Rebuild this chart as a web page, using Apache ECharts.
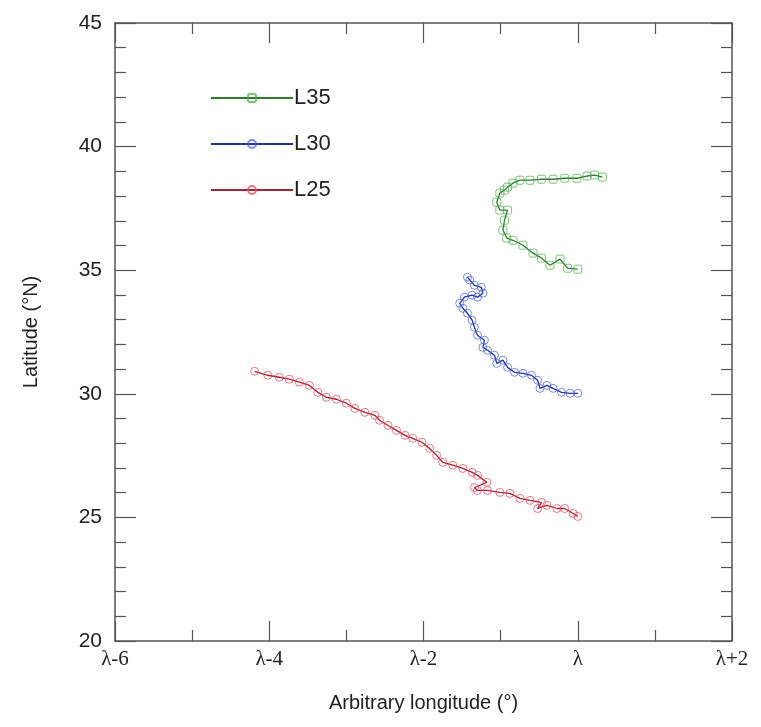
<!DOCTYPE html>
<html>
<head>
<meta charset="utf-8">
<script src="https://cdn.jsdelivr.net/npm/echarts@6/dist/echarts.min.js"></script>
<style>html,body{margin:0;padding:0;background:#fff}#c{width:761px;height:727px}</style>
</head>
<body>
<div id="c"></div>
<script>
// Tick values for the longitude axis (relative to λ)
const xTicks = [-6, -4, -2, 0, 2];
const xTickLabels = ['λ-6', 'λ-4', 'λ-2', 'λ', 'λ+2'];
const yTicks = [20, 25, 30, 35, 40, 45];

// L35 track: longitude offset, latitude
const l35Lon = [0, -0.13, -0.23, -0.36, -0.47, -0.58, -0.71, -0.84, -0.92, -0.97, -0.95, -0.91, -1.01, -1.05, -1.01, -0.95, -0.91, -0.84, -0.75, -0.62, -0.47, -0.32, -0.17, -0.01, 0.12, 0.22, 0.32];
const l35Lat = [35.04, 35.08, 35.45, 35.2, 35.49, 35.69, 36.01, 36.21, 36.3, 36.62, 37.02, 37.43, 37.43, 37.75, 38.12, 38.24, 38.36, 38.52, 38.64, 38.64, 38.68, 38.68, 38.72, 38.72, 38.81, 38.85, 38.77];

// L30 track
const l30Lon = [0, -0.10, -0.21, -0.32, -0.40, -0.49, -0.52, -0.60, -0.71, -0.82, -0.91, -0.97, -1.05, -1.08, -1.17, -1.23, -1.21, -1.30, -1.34, -1.37, -1.43, -1.49, -1.53, -1.47, -1.37, -1.30, -1.23, -1.25, -1.34, -1.40, -1.43];
const l30Lat = [30.02, 30.02, 30.06, 30.22, 30.34, 30.22, 30.55, 30.75, 30.83, 30.87, 31.07, 31.36, 31.23, 31.56, 31.76, 31.88, 32.17, 32.37, 32.69, 32.98, 33.26, 33.46, 33.66, 33.91, 33.99, 33.91, 34.07, 34.31, 34.39, 34.60, 34.72];

// L25 track
const l25Lon = [0, -0.06, -0.17, -0.27, -0.40, -0.52, -0.47, -0.62, -0.75, -0.88, -1.01, -1.17, -1.30, -1.34, -1.18, -1.30, -1.37, -1.49, -1.62, -1.75, -1.83, -1.92, -2.02, -2.14, -2.24, -2.35, -2.46, -2.57, -2.63, -2.76, -2.89, -3.00, -3.13, -3.26, -3.37, -3.48, -3.61, -3.74, -3.87, -4.02, -4.19];
const l25Lat = [25.04, 25.16, 25.36, 25.36, 25.49, 25.36, 25.61, 25.69, 25.77, 25.97, 26.01, 26.09, 26.09, 26.21, 26.42, 26.70, 26.82, 26.98, 27.11, 27.23, 27.51, 27.79, 28.04, 28.20, 28.32, 28.52, 28.72, 28.93, 29.13, 29.25, 29.41, 29.62, 29.78, 29.86, 30.06, 30.34, 30.47, 30.59, 30.67, 30.75, 30.91];

const zip = (a, b) => a.map((v, i) => [v, b[i]]);
const xLabel = v => { const i = xTicks.indexOf(v); return i >= 0 ? xTickLabels[i] : ''; };

const SANS = 'Liberation Sans, Arial, sans-serif';
const SERIF = 'Liberation Serif, Times New Roman, serif';
const AX = '#555';

function mkX(pos, showLabel) {
  return {
    type: 'value', position: pos, min: -6, max: 2, interval: 2,
    axisLine: { show: true, onZero: false, lineStyle: { color: AX, width: 1.5 } },
    splitLine: { show: false },
    axisTick: { show: true, inside: true, length: 20, lineStyle: { color: AX, width: 1.2 } },
    minorTick: { show: true, splitNumber: 2, length: 11, lineStyle: { color: AX, width: 1.2 } },
    axisLabel: { show: showLabel, formatter: xLabel, margin: 8, color: '#222', fontSize: 21, fontFamily: SERIF },
    name: showLabel ? 'Arbitrary longitude (°)' : '',
    nameLocation: 'middle', nameGap: 52,
    nameTextStyle: { fontSize: 20, color: '#222', fontFamily: SANS }
  };
}
function mkY(pos, showLabel) {
  return {
    type: 'value', position: pos, min: 20, max: 45, interval: 5,
    axisLine: { show: true, onZero: false, lineStyle: { color: AX, width: 1.5 } },
    splitLine: { show: false },
    axisTick: { show: true, inside: true, length: 21, lineStyle: { color: AX, width: 1.2 } },
    minorTick: { show: true, splitNumber: 5, length: 11, lineStyle: { color: AX, width: 1.2 } },
    axisLabel: { show: showLabel, margin: 13, color: '#222', fontSize: 21, fontFamily: SANS },
    name: showLabel ? 'Latitude (°N)' : '',
    nameLocation: 'middle', nameGap: 74,
    nameTextStyle: { fontSize: 20, color: '#222', fontFamily: SANS }
  };
}

function mkSeries(name, data, lineColor, markColor, symbol) {
  return {
    name, type: 'line', data, xAxisIndex: 0, yAxisIndex: 0,
    symbol, symbolSize: 8, showSymbol: true,
    color: lineColor,
    lineStyle: { color: lineColor, width: 1.3 },
    itemStyle: { color: 'rgba(255,255,255,0)', borderColor: markColor, borderWidth: 1, opacity: 0.75 },
    emphasis: { disabled: true },
    z: 3
  };
}

const chart = echarts.init(document.getElementById('c'), null, { renderer: 'canvas' });
chart.setOption({
  animation: false,
  backgroundColor: '#fff',
  grid: { left: 115, right: 29, top: 23, bottom: 86, containLabel: false },
  xAxis: [mkX('bottom', true), mkX('top', false)],
  yAxis: [mkY('left', true), mkY('right', false)],
  legend: {
    orient: 'vertical', left: 205, top: 82, itemGap: 24,
    itemWidth: 82, itemHeight: 10,
    textStyle: { fontSize: 22, color: '#222', fontFamily: SANS, padding: [0, 0, 0, -4] },
    data: ['L35', 'L30', 'L25']
  },
  series: [
    mkSeries('L35', zip(l35Lon, l35Lat), '#2f7a2f', '#4cae4c', 'roundRect'),
    mkSeries('L30', zip(l30Lon, l30Lat), '#23309a', '#4a64dc', 'circle'),
    mkSeries('L25', zip(l25Lon, l25Lat), '#a02535', '#e04a5c', 'circle')
  ]
});
</script>
</body>
</html>
